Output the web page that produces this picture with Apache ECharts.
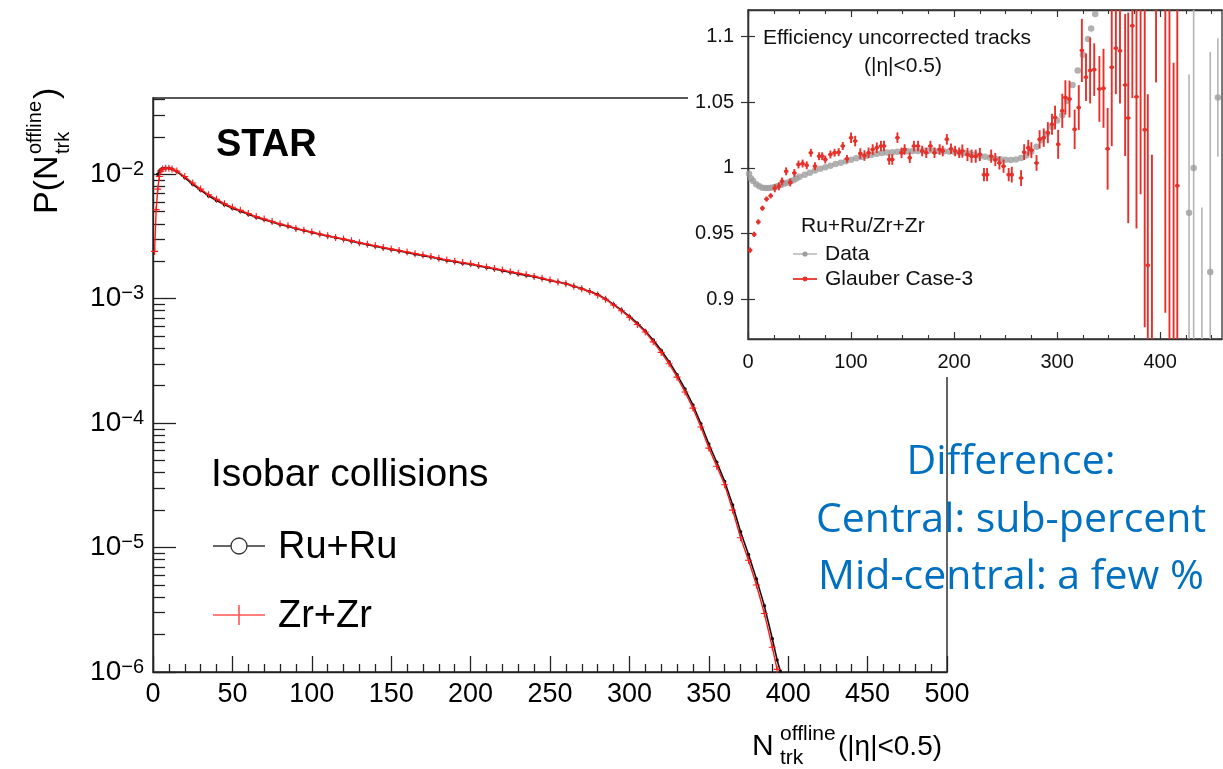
<!DOCTYPE html>
<html><head><meta charset="utf-8">
<script src="https://cdn.jsdelivr.net/npm/echarts@6/dist/echarts.min.js"></script>
<style>html,body{margin:0;padding:0;background:#fff}#c{width:1223px;height:769px}</style>
</head><body><div id="c"></div>
<script>
// ---------- main panel: multiplicity distributions ----------
const nMain = [1,2,3,4,5,6,8,10,12,15,20,25,30,35,40,45,50,55,60,65,70,75,80,85,90,95,100,105,110,115,120,125,130,135,140,145,150,155,160,165,170,175,180,185,190,195,200,205,210,215,220,225,230,235,240,245,250,255,260,265,270,275,280,285,290,295,300,305,310,315,320,325,330,335,340,345,350,355,360,365,370,375,380,385,390,393,395];
const pZrZr = [2.4e-3,5.2e-3,7.6e-3,9.6e-3,1.06e-2,1.10e-2,1.12e-2,1.12e-2,1.10e-2,1.06e-2,9.6e-3,8.5e-3,7.6e-3,6.85e-3,6.3e-3,5.8e-3,5.43e-3,5.13e-3,4.84e-3,4.57e-3,4.37e-3,4.17e-3,3.98e-3,3.85e-3,3.67e-3,3.55e-3,3.43e-3,3.31e-3,3.20e-3,3.10e-3,3.02e-3,2.92e-3,2.82e-3,2.74e-3,2.66e-3,2.58e-3,2.51e-3,2.44e-3,2.37e-3,2.30e-3,2.24e-3,2.18e-3,2.11e-3,2.05e-3,2.00e-3,1.95e-3,1.91e-3,1.85e-3,1.80e-3,1.75e-3,1.70e-3,1.65e-3,1.60e-3,1.56e-3,1.51e-3,1.46e-3,1.41e-3,1.36e-3,1.32e-3,1.26e-3,1.20e-3,1.14e-3,1.07e-3,9.9e-4,8.9e-4,8.0e-4,7.1e-4,6.2e-4,5.4e-4,4.5e-4,3.7e-4,3.0e-4,2.34e-4,1.78e-4,1.32e-4,9.3e-5,6.3e-5,4.5e-5,3.2e-5,2.0e-5,1.2e-5,7.9e-6,5.0e-6,2.95e-6,1.58e-6,1.05e-6,null];
const pRuRu = [null,null,1.0e-2,1.06e-2,1.09e-2,1.11e-2,1.12e-2,1.12e-2,1.10e-2,1.05e-2,9.4e-3,8.3e-3,7.45e-3,6.7e-3,6.15e-3,5.7e-3,5.33e-3,5.05e-3,4.78e-3,4.52e-3,4.32e-3,4.13e-3,3.95e-3,3.82e-3,3.65e-3,3.53e-3,3.41e-3,3.30e-3,3.19e-3,3.09e-3,3.00e-3,2.90e-3,2.80e-3,2.72e-3,2.64e-3,2.56e-3,2.49e-3,2.42e-3,2.35e-3,2.28e-3,2.22e-3,2.16e-3,2.09e-3,2.03e-3,1.98e-3,1.93e-3,1.89e-3,1.83e-3,1.78e-3,1.73e-3,1.68e-3,1.63e-3,1.58e-3,1.54e-3,1.50e-3,1.45e-3,1.40e-3,1.36e-3,1.32e-3,1.26e-3,1.20e-3,1.14e-3,1.08e-3,9.95e-4,9.0e-4,8.1e-4,7.2e-4,6.35e-4,5.5e-4,4.65e-4,3.85e-4,3.12e-4,2.45e-4,1.88e-4,1.40e-4,9.9e-5,6.8e-5,4.85e-5,3.4e-5,2.2e-5,1.34e-5,8.8e-6,5.6e-6,3.4e-6,1.85e-6,1.25e-6,1.02e-6];
const xMainTicks = [0,50,100,150,200,250,300,350,400,450,500];
const yMainTicks = [1e-6,1e-5,1e-4,1e-3,1e-2];

// ---------- inset: ratio Ru+Ru / Zr+Zr ----------
const nData = [1,3,5,8,11,14,17,20,23,26,29,32,35,38,41,44,47,50,55,60,65,70,75,80,85,90,95,100,105,110,115,120,125,130,135,140,145,150,155,160,165,170,175,180,185,190,195,200,205,210,215,220,225,230,235,240,245,250,255,260,265,270,275,280,285,290,295,300,305,310,315,320,325,330,333,337,428,432.5,440.5,448.6,456];
const rData = [0.9955,0.992,0.990,0.9875,0.986,0.985,0.9848,0.9848,0.985,0.9855,0.9862,0.987,0.988,0.9888,0.9897,0.9907,0.992,0.9932,0.9948,0.9963,0.998,0.9993,1.0005,1.0017,1.003,1.004,1.005,1.0062,1.0073,1.0083,1.0092,1.0100,1.0107,1.0113,1.0117,1.012,1.0123,1.0125,1.0127,1.0128,1.0129,1.013,1.013,1.013,1.0128,1.0127,1.0125,1.0122,1.0118,1.0113,1.0107,1.010,1.0092,1.0084,1.0077,1.007,1.0065,1.0062,1.006,1.0064,1.0075,1.0095,1.0125,1.016,1.021,1.026,1.031,1.036,1.040,1.051,1.063,1.074,1.086,1.098,1.106,1.117,0.966,1.0,0.85,0.921,1.0535];
const eData = [0,0,0,0,0,0,0,0,0,0,0,0,0,0,0,0,0,0,0,0,0,0,0,0,0,0,0,0,0,0,0,0,0,0,0,0,0,0,0,0,0,0,0,0,0,0,0,0,0,0,0,0,0,0,0,0,0,0,0,0,0,0,0,0,0,0,0,0,0,0,0,0,0,0,0,0,0.105,0.14,0.12,0.167,0.045];

const nGlauber = [2,6,10,14,18,22,26,30,33,37,41,45,49,53,57,61,65,69,72,75,80,84,88,92,96,100,104,109,113,117,121,125,129,132,137,140,145,149,152,157,161,165,169,173,177,181,186,189,193,197,201,205,208,213,217,221,225,229,232,236,240,244,248,253,256,265,268,272,275,280,283,287,291,295,298,301,305,308,312,317,321,324,328,332,336,341,345,349,353,357,361,366,369,373,377,381,385,388,392,396,405,409,413,416.6];
const rGlauber = [0.9375,0.9495,0.959,0.9694,0.9763,0.9788,0.9845,0.986,0.9898,0.9974,0.989,0.9962,1.0026,1.0033,1.002,1.0115,1.0013,1.0089,1.0089,1.0064,1.0102,1.0115,1.012,1.0166,1.0069,1.023,1.0204,1.011,1.0094,1.0115,1.014,1.0153,1.0166,1.0166,1.0064,1.0064,1.023,1.0115,1.014,1.0077,1.0166,1.0166,1.0128,1.0115,1.0166,1.0115,1.014,1.0128,1.0217,1.0145,1.0128,1.0115,1.0128,1.0102,1.0089,1.0089,1.0102,0.9949,0.9949,1.0089,1.0064,1.0038,1.0013,0.9949,0.9949,0.9923,1.012,1.0153,1.0135,1.0038,1.0217,1.023,1.0268,1.0332,1.0383,1.0179,1.0434,1.0536,1.0523,1.0293,1.0459,1.0893,1.0689,1.074,1.0747,1.060,1.0605,1.0145,1.0765,1.091,1.089,1.063,1.038,1.108,1.054,1.13,1.029,0.926,0.86,1.14,1.13,0.85,0.86,0.9865];
const eGlauber = [0.002,0.002,0.002,0.002,0.002,0.002,0.003,0.003,0.003,0.003,0.003,0.003,0.003,0.003,0.003,0.003,0.003,0.003,0.003,0.003,0.003,0.003,0.003,0.003,0.003,0.004,0.004,0.004,0.004,0.004,0.004,0.004,0.004,0.004,0.004,0.004,0.004,0.004,0.004,0.004,0.004,0.004,0.004,0.004,0.004,0.004,0.004,0.004,0.004,0.004,0.004,0.004,0.005,0.005,0.005,0.005,0.005,0.005,0.005,0.005,0.005,0.005,0.005,0.005,0.006,0.006,0.006,0.006,0.006,0.006,0.007,0.007,0.008,0.008,0.009,0.011,0.013,0.013,0.014,0.015,0.017,0.024,0.018,0.025,0.02,0.025,0.03,0.031,0.06,0.035,0.04,0.054,0.08,0.055,0.10,0.15,0.15,0.13,0.15,0.075,0.24,0.27,0.22,0.14];
const xInsetTicks = [0,100,200,300,400];
const yInsetTicks = [0.9,0.95,1,1.05,1.1];

// ---------- build ----------
const FONT = "'Liberation Sans', Arial, Helvetica, sans-serif";
const pairs = (xs, ys) => xs.map((x, i) => [x, ys[i]]).filter(d => d[1] !== null);
const yMinor = [];
yMainTicks.forEach(d => { for (let m = 2; m <= 9; m++) { const v = +(m * d).toPrecision(3); if (v <= 0.041) yMinor.push(v); } });
const xInsetMinor = [];
for (let v = 25; v <= 450; v += 25) if (v % 100 !== 0) xInsetMinor.push(v);

const RED = '#e8302a';
function errItem(color, capHalf, dotR, lw) {
  return function (params, api) {
    const x = api.value(0), y = api.value(1), e = api.value(2);
    const c = api.coord([x, y]);
    const t = api.coord([x, y + e]);
    const b = api.coord([x, y - e]);
    const l = api.coord([x - capHalf, y]);
    const r = api.coord([x + capHalf, y]);
    const ch = [];
    if (e > 0) ch.push({type: 'line', shape: {x1: c[0], y1: t[1], x2: c[0], y2: b[1]}, style: {stroke: color, lineWidth: lw}});
    if (capHalf > 0) ch.push({type: 'line', shape: {x1: l[0], y1: c[1], x2: r[0], y2: c[1]}, style: {stroke: color, lineWidth: lw}});
    if (dotR > 0) ch.push({type: 'circle', shape: {cx: c[0], cy: c[1], r: dotR}, style: {fill: color}});
    return {type: 'group', children: ch};
  };
}

const tickStyleMain = {color: '#222', width: 1.3};
const option = {
  animation: false,
  backgroundColor: '#fff',
  grid: [
    {left: 153, top: 98, width: 794, height: 574, show: true, borderColor: '#222', borderWidth: 1.4, backgroundColor: 'transparent', containLabel: false, outerBoundsMode: 'none'},
    {left: 748, top: 10, width: 474, height: 329, show: true, borderColor: '#333', borderWidth: 1.3, backgroundColor: 'transparent', containLabel: false, outerBoundsMode: 'none', z: 12}
  ],
  xAxis: [
    {gridIndex: 0, type: 'value', position: 'bottom', min: 0, max: 500, interval: 50,
     axisLine: {show: true, lineStyle: {color: '#222', width: 1.4}},
     axisTick: {show: true, inside: true, length: 16, lineStyle: tickStyleMain},
     minorTick: {show: true, splitNumber: 5, length: 8, lineStyle: tickStyleMain},
     axisLabel: {fontSize: 27, color: '#000', fontFamily: FONT, margin: 9, customValues: xMainTicks},
     splitLine: {show: false}, minorSplitLine: {show: false}},
    {gridIndex: 1, type: 'value', position: 'bottom', min: 0, max: 460, z: 12,
     axisLine: {show: true, lineStyle: {color: '#333', width: 1.3}},
     axisTick: {show: true, inside: true, length: 7, customValues: xInsetTicks, lineStyle: {color: '#333', width: 1.2}},
     axisLabel: {fontSize: 20, color: '#111', fontFamily: FONT, margin: 13, customValues: xInsetTicks},
     splitLine: {show: false}},
    {gridIndex: 1, type: 'value', position: 'bottom', min: 0, max: 460, z: 12,
     axisLine: {show: false}, axisLabel: {show: false}, splitLine: {show: false},
     axisTick: {show: true, inside: true, length: 4, customValues: xInsetMinor, lineStyle: {color: '#333', width: 1.1}}},
    {gridIndex: 1, type: 'value', position: 'top', min: 0, max: 460, z: 12,
     axisLine: {show: true, lineStyle: {color: '#333', width: 1.3}}, axisLabel: {show: false}, splitLine: {show: false},
     axisTick: {show: true, inside: true, length: 7, customValues: xInsetTicks, lineStyle: {color: '#333', width: 1.2}}},
    {gridIndex: 1, type: 'value', position: 'top', min: 0, max: 460, z: 12,
     axisLine: {show: false}, axisLabel: {show: false}, splitLine: {show: false},
     axisTick: {show: true, inside: true, length: 4, customValues: xInsetMinor, lineStyle: {color: '#333', width: 1.1}}}
  ],
  yAxis: [
    {gridIndex: 0, type: 'log', logBase: 10, position: 'left', min: 1e-6, max: 0.041,
     axisLine: {show: true, lineStyle: {color: '#222', width: 1.4}},
     axisTick: {show: true, inside: true, length: 23, customValues: yMainTicks, lineStyle: tickStyleMain},
     axisLabel: {customValues: yMainTicks, margin: 9, color: '#000', fontFamily: FONT,
       formatter: v => '{b|10}{s|\u2212' + Math.abs(Math.round(Math.log10(v))) + '}',
       rich: {b: {fontSize: 28, lineHeight: 30, fontFamily: FONT, color: '#000'},
              s: {fontSize: 20, lineHeight: 20, verticalAlign: 'top', fontFamily: FONT, color: '#000'}}},
     splitLine: {show: false}},
    {gridIndex: 0, type: 'log', logBase: 10, position: 'left', min: 1e-6, max: 0.041,
     axisLine: {show: false}, axisLabel: {show: false}, splitLine: {show: false},
     axisTick: {show: true, inside: true, length: 12, customValues: yMinor, lineStyle: tickStyleMain}},
    {gridIndex: 1, type: 'value', position: 'left', min: 0.87, max: 1.12, z: 12,
     axisLine: {show: true, lineStyle: {color: '#333', width: 1.3}},
     axisTick: {show: true, inside: true, length: 7, customValues: yInsetTicks, lineStyle: {color: '#333', width: 1.2}},
     axisLabel: {fontSize: 20, color: '#111', fontFamily: FONT, margin: 14, customValues: yInsetTicks},
     splitLine: {show: false}},
    {gridIndex: 1, type: 'value', position: 'right', min: 0.87, max: 1.12, z: 12,
     axisLine: {show: true, lineStyle: {color: '#333', width: 1.3}}, axisLabel: {show: false}, splitLine: {show: false},
     axisTick: {show: true, inside: true, length: 7, customValues: yInsetTicks, lineStyle: {color: '#333', width: 1.2}}}
  ],
  series: [
    {name: 'Ru+Ru', type: 'line', xAxisIndex: 0, yAxisIndex: 0, data: pairs(nMain, pRuRu),
     symbol: 'circle', symbolSize: 3.5, showSymbol: true, itemStyle: {color: '#111'},
     lineStyle: {color: '#111', width: 1.6}, z: 2},
    {name: 'Zr+Zr', type: 'line', xAxisIndex: 0, yAxisIndex: 0, data: pairs(nMain, pZrZr),
     symbol: 'path://M0,4.2H10V5.8H0Z M4.2,0H5.8V10H4.2Z', symbolSize: 7, showSymbol: true,
     itemStyle: {color: '#ff1a1a'}, lineStyle: {color: '#ff1a1a', width: 1.4}, z: 3},
    {name: 'Data', type: 'scatter', xAxisIndex: 1, yAxisIndex: 2, z: 13,
     data: nData.map((x, i) => [x, rData[i]]), symbol: 'circle', symbolSize: 6.5,
     itemStyle: {color: '#9e9e9e'}, clip: true,
     markLine: {silent: true, symbol: 'none', label: {show: false},
       lineStyle: {color: '#777', type: [1.5, 1.5], width: 0.9}, data: [{yAxis: 1}]}},
    {name: 'Data errors', type: 'custom', xAxisIndex: 1, yAxisIndex: 2, z: 13, clip: true,
     data: nData.map((x, i) => [x, rData[i], eData[i]]).filter(d => d[2] > 0),
     renderItem: errItem('#b5b5b5', 0, 0, 1.6)},
    {name: 'Glauber Case-3', type: 'custom', xAxisIndex: 1, yAxisIndex: 2, z: 14, clip: true,
     data: nGlauber.map((x, i) => [x, rGlauber[i], eGlauber[i]]),
     renderItem: errItem(RED, 2.2, 2, 1.9)}
  ],
  graphic: [
    // inset background (covers the main frame's top-right corner)
    {type: 'rect', z: 10, shape: {x: 688, y: 0, width: 535, height: 377}, style: {fill: '#fff'}},
    // main panel texts
    {type: 'text', z: 5, left: 216, top: 127, style: {text: 'STAR', font: "bold 38px 'Liberation Sans', Arial, sans-serif", fill: '#000'}},
    {type: 'text', z: 5, x: 211, y: 475, style: {text: 'Isobar collisions', font: "39px 'Liberation Sans', Arial, sans-serif", fill: '#000', verticalAlign: 'middle'}},
    {type: 'line', z: 5, shape: {x1: 213, y1: 546, x2: 265, y2: 546}, style: {stroke: '#333', lineWidth: 1.5}},
    {type: 'circle', z: 6, shape: {cx: 239, cy: 546, r: 8}, style: {fill: '#fff', stroke: '#333', lineWidth: 1.3}},
    {type: 'text', z: 5, x: 278, y: 548, style: {text: 'Ru+Ru', font: "38px 'Liberation Sans', Arial, sans-serif", fill: '#000', verticalAlign: 'middle'}},
    {type: 'line', z: 5, shape: {x1: 213, y1: 615, x2: 265, y2: 615}, style: {stroke: '#ff5555', lineWidth: 1.6}},
    {type: 'line', z: 5, shape: {x1: 239, y1: 605, x2: 239, y2: 625}, style: {stroke: '#ff5555', lineWidth: 1.6}},
    {type: 'text', z: 5, x: 278, y: 617, style: {text: 'Zr+Zr', font: "38px 'Liberation Sans', Arial, sans-serif", fill: '#000', verticalAlign: 'middle'}},
    // y-axis title (rotated)
    {type: 'group', z: 5, x: 60, y: 214, rotation: Math.PI / 2, children: [
      {type: 'text', x: 0, y: -12, style: {text: 'P(N', font: "34px 'Liberation Sans', Arial, sans-serif", fill: '#000', verticalAlign: 'middle'}},
      {type: 'text', x: 60, y: -25, style: {text: 'offline', font: "20px 'Liberation Sans', Arial, sans-serif", fill: '#000', verticalAlign: 'middle'}},
      {type: 'text', x: 60, y: 3, style: {text: 'trk', font: "20px 'Liberation Sans', Arial, sans-serif", fill: '#000', verticalAlign: 'middle'}},
      {type: 'text', x: 115, y: -12, style: {text: ')', font: "34px 'Liberation Sans', Arial, sans-serif", fill: '#000', verticalAlign: 'middle'}}
    ]},
    // x-axis title
    {type: 'text', z: 5, x: 752, y: 747, style: {text: 'N', font: "30px 'Liberation Sans', Arial, sans-serif", fill: '#000', verticalAlign: 'middle'}},
    {type: 'text', z: 5, x: 780, y: 734, style: {text: 'offline', font: "21px 'Liberation Sans', Arial, sans-serif", fill: '#000', verticalAlign: 'middle'}},
    {type: 'text', z: 5, x: 780, y: 758, style: {text: 'trk', font: "21px 'Liberation Sans', Arial, sans-serif", fill: '#000', verticalAlign: 'middle'}},
    {type: 'text', z: 5, x: 838, y: 747, style: {text: '(|\u03b7|<0.5)', font: "28px 'Liberation Sans', Arial, sans-serif", fill: '#000', verticalAlign: 'middle'}},
    // inset texts
    {type: 'text', z: 15, x: 763, y: 38, style: {text: 'Efficiency uncorrected tracks', font: "21px 'Liberation Sans', Arial, sans-serif", fill: '#111', verticalAlign: 'middle'}},
    {type: 'text', z: 15, x: 903, y: 66, style: {text: '(|\u03b7|<0.5)', font: "21px 'Liberation Sans', Arial, sans-serif", fill: '#111', verticalAlign: 'middle', align: 'center'}},
    {type: 'text', z: 15, x: 801, y: 226, style: {text: 'Ru+Ru/Zr+Zr', font: "21px 'Liberation Sans', Arial, sans-serif", fill: '#111', verticalAlign: 'middle'}},
    {type: 'line', z: 15, shape: {x1: 793, y1: 254, x2: 817, y2: 254}, style: {stroke: '#b0b0b0', lineWidth: 1.4}},
    {type: 'circle', z: 15, shape: {cx: 805, cy: 254, r: 2.6}, style: {fill: '#9e9e9e'}},
    {type: 'text', z: 15, x: 825, y: 254, style: {text: 'Data', font: "21px 'Liberation Sans', Arial, sans-serif", fill: '#111', verticalAlign: 'middle'}},
    {type: 'line', z: 15, shape: {x1: 793, y1: 279, x2: 817, y2: 279}, style: {stroke: RED, lineWidth: 1.8}},
    {type: 'circle', z: 15, shape: {cx: 805, cy: 279, r: 2.4}, style: {fill: RED}},
    {type: 'text', z: 15, x: 825, y: 279, style: {text: 'Glauber Case-3', font: "21px 'Liberation Sans', Arial, sans-serif", fill: '#111', verticalAlign: 'middle'}},
    // annotation
    {type: 'text', z: 20, x: 1011, y: 462, style: {text: 'Difference:', font: "41px 'Open Sans', Lato, sans-serif", fill: '#0070C0', align: 'center', verticalAlign: 'middle'}},
    {type: 'text', z: 20, x: 1011, y: 520, style: {text: 'Central: sub-percent', font: "41px 'Open Sans', Lato, sans-serif", fill: '#0070C0', align: 'center', verticalAlign: 'middle'}},
    {type: 'text', z: 20, x: 1011, y: 577, style: {text: 'Mid-central: a few %', font: "41px 'Open Sans', Lato, sans-serif", fill: '#0070C0', align: 'center', verticalAlign: 'middle'}}
  ]
};
const chart = echarts.init(document.getElementById('c'), null, {renderer: 'canvas'});
chart.setOption(option);
</script>
</body></html>
